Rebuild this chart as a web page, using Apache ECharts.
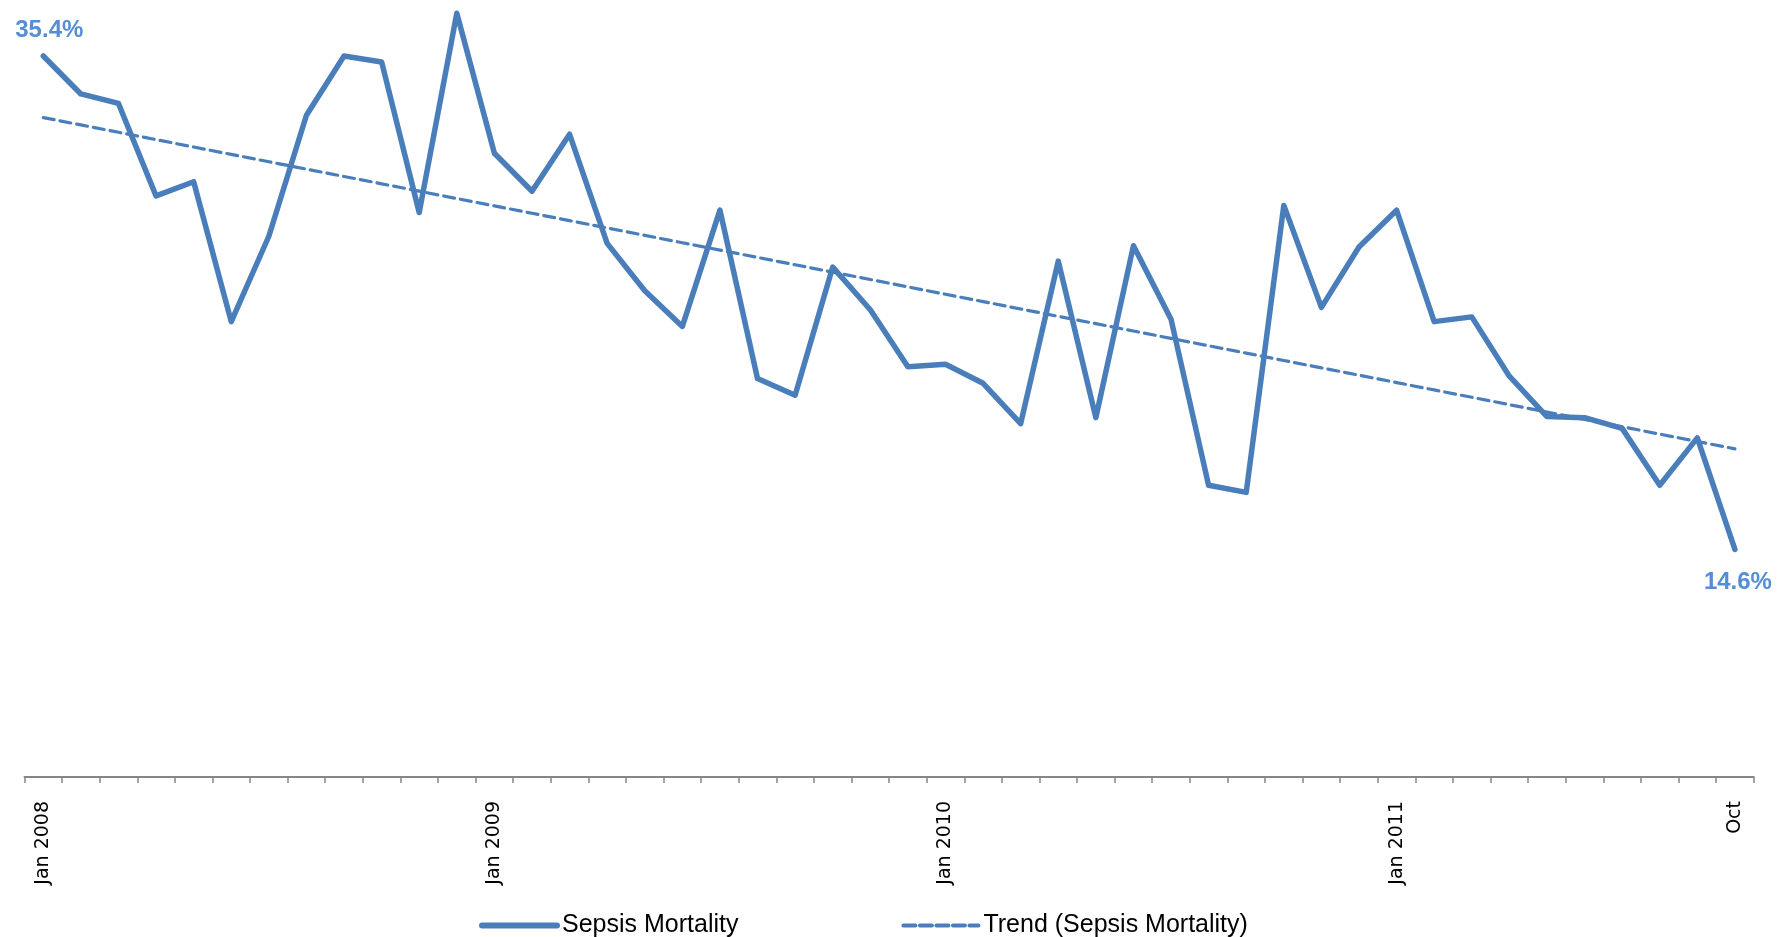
<!DOCTYPE html>
<html>
<head>
<meta charset="utf-8">
<script src="https://cdn.jsdelivr.net/npm/echarts@6/dist/echarts.min.js"></script>
<style>
  html, body { margin: 0; padding: 0; background: #ffffff; }
  #chart { width: 1790px; height: 937px; }
</style>
</head>
<body>
<div id="chart"></div>
<script>
// Monthly categories, Jan 2008 – Oct 2011
const months = [
  'Jan 2008', 'Feb', 'Mar', 'Apr', 'May', 'Jun', 'Jul', 'Aug', 'Sep', 'Oct', 'Nov', 'Dec',
  'Jan 2009', 'Feb', 'Mar', 'Apr', 'May', 'Jun', 'Jul', 'Aug', 'Sep', 'Oct', 'Nov', 'Dec',
  'Jan 2010', 'Feb', 'Mar', 'Apr', 'May', 'Jun', 'Jul', 'Aug', 'Sep', 'Oct', 'Nov', 'Dec',
  'Jan 2011', 'Feb', 'Mar', 'Apr', 'May', 'Jun', 'Jul', 'Aug', 'Sep', 'Oct'
];

// Sepsis mortality rate per month (%)
const mortality = [
  35.4, 33.8, 33.4, 29.5, 30.1, 24.2, 27.8, 32.9, 35.4, 35.15, 28.8, 37.2,
  31.3, 29.7, 32.1, 27.5, 25.5, 24.0, 28.9, 21.8, 21.1, 26.5, 24.7, 22.3,
  22.4, 21.6, 19.9, 26.75, 20.15, 27.4, 24.3, 17.3, 17.0, 29.1, 24.8, 27.35,
  28.9, 24.2, 24.4, 21.9, 20.2, 20.15, 19.7, 17.3, 19.3, 14.6
];

// Which tick labels are printed on the month axis
const shownTickLabels = [0, 12, 24, 36, 45];

const seriesNames = ['Sepsis Mortality', 'Trend (Sepsis Mortality)'];

// Least-squares linear trend over the monthly values
function linearTrend(values) {
  const n = values.length;
  const mx = (n - 1) / 2;
  const my = values.reduce((a, b) => a + b, 0) / n;
  let sxy = 0, sxx = 0;
  values.forEach((y, x) => { sxy += (x - mx) * (y - my); sxx += (x - mx) * (x - mx); });
  const b = sxy / sxx;
  const a = my - b * mx;
  return values.map((_, x) => +(a + b * x).toFixed(3));
}

const lineColor = '#4A7EBB';
const labelColor = '#558ED5';
const last = mortality.length - 1;

const labelFont = {
  show: true,
  color: labelColor,
  fontFamily: '"Liberation Sans", Arial, sans-serif',
  fontWeight: 'bold',
  fontSize: 24,
  formatter: p => p.value.toFixed(1) + '%'
};

const mortalityData = mortality.map((v, i) => {
  if (i === 0) return { value: v, label: Object.assign({}, labelFont, { position: 'top', distance: 14, offset: [6, 0] }) };
  if (i === last) return { value: v, label: Object.assign({}, labelFont, { position: 'bottom', distance: 21, offset: [3, 0] }) };
  return v;
});

const chart = echarts.init(document.getElementById('chart'), null, { renderer: 'canvas' });

chart.setOption({
  animation: false,
  backgroundColor: '#ffffff',
  grid: { left: 24.5, right: 36.3, top: 6.2, bottom: 160, containLabel: false },
  legend: {
    data: [
      { name: seriesNames[0], lineStyle: { width: 6, cap: 'round' } },
      { name: seriesNames[1], lineStyle: { width: 4, type: [12, 4.5] } }
    ],
    left: 474,
    top: 908,
    itemWidth: 75,
    itemHeight: 14,
    itemGap: 163,
    itemStyle: { opacity: 0 },
    textStyle: {
      color: '#000000',
      fontFamily: '"Liberation Sans", Arial, sans-serif',
      fontSize: 25
    }
  },
  xAxis: {
    type: 'category',
    data: months,
    boundaryGap: true,
    axisLine: { show: true, onZero: false, lineStyle: { color: '#868686', width: 2 } },
    axisTick: { show: true, interval: 0, length: 6, lineStyle: { color: '#868686', width: 1.5 } },
    axisLabel: {
      interval: (i) => shownTickLabels.indexOf(i) !== -1,
      rotate: 90,
      margin: 24,
      color: '#000000',
      fontFamily: '"DejaVu Sans", Verdana, sans-serif',
      fontSize: 19
    },
    splitLine: { show: false }
  },
  yAxis: {
    type: 'value',
    min: 5,
    max: 37.5,
    show: false,
    splitLine: { show: false }
  },
  series: [
    {
      name: seriesNames[0],
      type: 'line',
      data: mortalityData,
      symbol: 'circle',
      symbolSize: 0,
      showSymbol: true,
      showAllSymbol: true,
      itemStyle: { color: lineColor },
      lineStyle: { color: lineColor, width: 5.5, join: 'round', cap: 'round' },
      label: { show: false },
      z: 3
    },
    {
      name: seriesNames[1],
      type: 'line',
      data: linearTrend(mortality),
      symbol: 'none',
      itemStyle: { color: lineColor },
      lineStyle: { color: lineColor, width: 3.2, type: [11, 6], cap: 'round' },
      z: 2
    }
  ]
});
</script>
</body>
</html>
